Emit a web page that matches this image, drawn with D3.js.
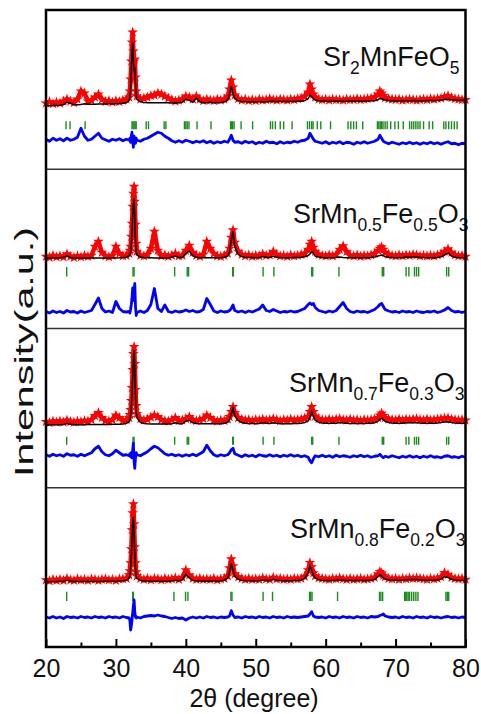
<!DOCTYPE html>
<html>
<head>
<meta charset="utf-8">
<script src="https://cdn.jsdelivr.net/npm/d3@7"></script>
<style>body{margin:0;background:#fff}</style>
</head>
<body>
<script>
/* 2theta sampling (denser around the peaks) */
const twoTheta = [
  20, 20.5, 21, 21.5, 22, 22.5, 23, 23.5, 24, 24.5, 25, 25.5, 26, 26.5, 27, 27.5, 28, 28.5, 29, 29.5, 30, 30.5, 31, 31.5,
  31.9, 32, 32.1, 32.2, 32.3, 32.4, 32.5, 32.6, 32.7, 32.8, 32.9,
  33, 33.5, 34, 34.5, 35, 35.5, 36, 36.5, 37, 37.5, 38, 38.5, 39, 39.5, 40, 40.5, 41, 41.5, 42, 42.5, 43, 43.5, 44, 44.5, 45, 45.5, 46,
  46.25, 46.5, 46.75, 47,
  47.5, 48, 48.5, 49, 49.5, 50, 50.5, 51, 51.5, 52, 52.5, 53, 53.5, 54, 54.5, 55, 55.5, 56, 56.5, 57, 57.5,
  57.75, 58, 58.25,
  58.5, 59, 59.5, 60, 60.5, 61, 61.5, 62, 62.5, 63, 63.5, 64, 64.5, 65, 65.5, 66, 66.5, 67, 67.5,
  67.75, 68, 68.25,
  68.5, 69, 69.5, 70, 70.5, 71, 71.5, 72, 72.5, 73, 73.5, 74, 74.5, 75, 75.5, 76, 76.5, 77, 77.5, 78, 78.5, 79, 79.5, 80
];

/* Sr2MnFeO5 */
const obs1 = [
  66, 67.5, 65.5, 67, 66, 68, 70, 68, 66.5, 70, 78, 76, 68, 69, 72, 75, 70, 67.5, 68.5, 67, 68.5, 67.5, 69, 70,
  72, 78, 90, 108, 127, 137, 118, 108, 110, 92, 78,
  73, 70, 71, 72, 73.5, 74, 76, 75, 73, 71, 69.5, 68, 69, 70, 73, 72, 70, 73, 70, 68.5, 70, 69, 68.5, 70, 69, 70, 73,
  80, 89, 82, 74,
  70.5, 69, 70, 68.5, 69.5, 68.5, 70, 69, 69.5, 70.5, 69.5, 69, 70, 69.5, 69, 70, 69.5, 70.5, 71, 73, 77,
  85, 80, 75,
  72, 70, 69.5, 70, 69, 70, 69.5, 69.5, 69, 70, 69.5, 69.5, 70.5, 69.5, 70, 70.5, 71, 72, 75,
  78, 76, 73.5,
  71.5, 70.5, 70, 69.5, 70, 69, 69.5, 70, 69.5, 69, 69.5, 70, 69.5, 70.5, 70, 70.5, 71, 72.5, 73.5, 71.5, 70.5, 70, 69.5, 69.5
];
const calc1 = [
  63.5, 63.6, 63.7, 63.8, 64, 64.5, 67, 66, 64.4, 64.5, 64.8, 65.5, 64.9, 65, 65, 65.2, 65.3, 65.3, 65.4, 65.5, 65.6, 65.7, 66, 66.5,
  69, 72, 80, 98, 118, 127, 108, 98, 102, 86, 74,
  70, 67.5, 66.8, 66.6, 66.5, 66.5, 66.4, 66.4, 66.5, 66.4, 66.3, 66.3, 66.4, 67, 70, 69, 67, 71, 67.5, 66.5, 66.5, 67, 66.5, 66.6, 66.8, 67.2, 69,
  75, 83, 76, 70.5,
  68.5, 67.8, 67.6, 67.5, 67.5, 67.5, 67.5, 67.6, 67.6, 67.8, 67.9, 67.8, 67.7, 67.7, 67.7, 67.8, 67.8, 67.9, 68, 68.8, 70.5,
  74, 72.5, 70.5,
  69.3, 68.6, 68.3, 68.2, 68.1, 68, 68, 68, 68, 68.1, 68.2, 68.2, 68.2, 68.2, 68.3, 68.3, 68.4, 68.6, 69.5,
  71, 70.5, 69.8,
  69.2, 68.8, 68.6, 68.5, 68.5, 68.5, 68.5, 68.6, 68.7, 68.6, 68.6, 68.6, 68.7, 68.7, 68.8, 68.9, 69.2, 69.8, 70, 69.5, 69.2, 69, 69, 69
];
const diff1 = [
  30, 28, 31, 29, 30.5, 28.5, 31, 29, 30, 32, 41, 33, 29, 30, 33, 36, 31, 29.5, 28, 30, 29, 30.5, 28.5, 30,
  29, 31, 27, 33, 37, 28, 22, 33, 30, 26, 31,
  29, 28, 30, 31, 33, 35, 37, 36, 33, 31, 28.5, 27, 28.5, 27, 29, 28, 26.5, 28, 27, 28.5, 26.5, 28, 26, 27.5, 26.5, 28, 27,
  30, 34, 29, 27,
  27.5, 26, 28, 26.5, 27.5, 25.5, 27, 26, 28, 26.5, 27, 25.5, 27.5, 26, 27, 26.5, 28, 27, 28.5, 29, 31,
  36, 33, 30,
  28, 27, 26, 27.5, 25.5, 27, 26, 27.5, 25.5, 27, 26.5, 25, 27, 26, 27.5, 26, 27, 28, 30,
  34, 31, 28,
  27, 25.5, 27, 26, 25, 26.5, 25.5, 27, 25.5, 26.5, 25, 26.5, 25.5, 27, 25.5, 26.5, 25, 26.5, 27.5, 25.5, 26, 24.5, 26, 25.5
];
const bragg1 = [22.87, 23.44, 25.59, 32.3, 32.45, 32.6, 32.75, 32.9, 34.33, 34.66, 36.9, 37.15, 39.8, 40.0, 40.2, 40.45,
  41.6, 43.6, 46.4, 46.55, 46.7, 46.9, 47.9, 49.55, 52.1, 52.4, 52.8, 53.5, 54.0, 55.2, 57.4, 57.7, 58.0, 58.2, 58.8,
  59.3, 60.7, 63.2, 63.6, 64.0, 64.4, 65.3, 67.4, 67.6, 67.8, 68.0, 68.2, 68.5, 68.8, 69.3, 69.9, 70.4, 71.1, 72.0,
  72.3, 72.6, 72.9, 73.2, 73.5, 74.0, 74.8, 75.3, 76.9, 77.2, 77.6, 78.0, 78.4, 78.8];

/* SrMn0.5Fe0.5O3 */
const obs2 = [
  72, 71, 73, 71.5, 72.5, 71.5, 74.5, 72, 71, 72.5, 71.5, 73, 72, 73, 82, 87, 76, 72.5, 71.5, 73, 82, 75, 72.5, 73,
  75, 78, 82, 92, 105, 122, 135, 142, 127, 104, 85,
  77, 73, 72.5, 74, 80, 97, 78, 72.5, 73.5, 72, 73, 75, 72.5, 73, 78, 83, 76, 73, 72, 74, 87, 80, 75, 72.5, 72, 73, 75,
  80, 91, 98.5, 86,
  77, 74, 72.5, 73.5, 72, 73, 72.5, 74.5, 73, 73.5, 77, 74, 72.5, 73, 72, 73.5, 72.5, 73, 74, 75, 79,
  84, 87, 81,
  77, 74, 73, 72.5, 73.5, 72.5, 74, 79, 82.5, 77, 73, 72.5, 73.5, 72, 73, 72.5, 73.5, 75, 78,
  80, 81.5, 79,
  76, 74, 73, 72.5, 73.5, 72.5, 73.5, 73, 74, 73.5, 72.5, 73, 72.5, 73, 72.5, 73.5, 74.5, 77, 79.5, 76, 73.5, 72.5, 73, 72
];
const calc2 = [
  70.5, 70.5, 70.5, 70.6, 70.7, 71.2, 72.5, 71, 70.6, 70.5, 70.5, 70.5, 70.5, 70.5, 70.5, 70.5, 70.5, 70.5, 70.5, 70.6, 70.6, 70.7, 70.9, 71.3,
  72.5, 74, 77, 84, 96, 112, 124, 130.5, 110, 88, 77,
  73.5, 71.5, 71, 70.8, 70.7, 70.6, 70.6, 70.6, 70.6, 70.7, 71.2, 72.5, 71, 71, 75, 77.5, 72.5, 71.2, 70.8, 70.7, 70.7, 70.7, 70.7, 70.8, 70.9, 71.2, 72.5,
  77, 88, 97, 82,
  74, 72, 71.3, 71, 70.9, 70.8, 71, 72, 71.2, 71, 72.5, 71.3, 70.9, 70.8, 70.8, 70.8, 70.9, 71, 71.3, 71.8, 73,
  74.5, 77, 75,
  72.5, 71.5, 71, 70.8, 70.8, 70.8, 71, 71.5, 71, 70.8, 70.7, 70.7, 70.7, 70.7, 70.8, 70.8, 71, 71.5, 72.5,
  73, 73.5, 72.8,
  71.8, 71.2, 71, 70.8, 70.8, 70.9, 71.3, 71.2, 71.5, 71.5, 71.1, 70.9, 70.8, 70.8, 70.8, 71, 71.6, 73.5, 75.5, 72.5, 71.3, 70.9, 70.7, 70.6
];
const diff2 = [
  17, 15.5, 17.5, 16, 17, 15.5, 18, 16.5, 17, 15.5, 17.5, 16, 17, 18, 24, 30.5, 20, 16.5, 17.5, 16, 27, 20, 17, 16.5,
  17, 15.5, 19, 24, 30, 40.5, 28, 36, 45, 22, 13,
  16, 17.5, 16, 18, 24, 40, 20, 17, 23.5, 17, 16, 17.5, 16.5, 17, 18.5, 17, 18, 16.5, 17, 19, 30, 24, 17.5, 16, 17.5, 16.5, 17,
  18, 20, 23.5, 18,
  16.5, 17.5, 16, 17.5, 16.5, 18, 19.5, 23.5, 18, 17, 19, 17.5, 16, 17, 16.5, 17.5, 16.5, 17, 18.5, 20, 24,
  25.5, 24, 25,
  21, 18, 17, 16, 17.5, 16.5, 18, 22, 26, 20, 17, 16, 17.5, 16.5, 17, 16, 17.5, 19, 22,
  24, 25, 22,
  19, 17.5, 16.5, 17, 16, 17.5, 16.5, 17, 16, 17.5, 16.5, 16, 17, 16.5, 17.5, 16, 17, 18.5, 21, 18, 16.5, 17, 16, 17
];
const bragg2 = [22.96, 32.45, 32.6, 38.4, 40.2, 40.4, 46.7, 46.8, 51.05, 52.6, 58.0, 58.15, 61.9, 68.1, 68.3,
  71.5, 71.9, 72.7, 73.0, 73.3, 77.3, 77.6];

/* SrMn0.7Fe0.3O3 */
const obs3 = [
  66, 65, 66.5, 65.5, 66.5, 65.5, 67.5, 66, 65.5, 66.5, 66, 67, 66.5, 68, 72, 75, 70, 67, 66.5, 68, 72.5, 70, 67, 68,
  70, 73, 78, 87, 100, 118, 134, 141, 124, 98, 82,
  74, 69, 67.5, 68.5, 70.5, 72.5, 71, 68, 67, 66.5, 68, 70, 67, 67.5, 69, 71, 68, 67, 68, 69, 72.5, 70, 67.5, 66.5, 67.5, 67, 68.5,
  71, 76, 81, 75,
  70, 68.5, 67.5, 68, 67, 68, 67.5, 68.5, 67.5, 68, 69, 68, 67, 68, 67.5, 68.5, 67.5, 68, 68.5, 69.5, 71,
  76, 81, 76,
  71.5, 69, 68, 67.5, 68.5, 67.5, 68.5, 69, 68, 67.5, 68.5, 67.5, 68, 67, 68, 67.5, 68, 68.5, 70,
  72.5, 74.5, 72,
  70, 68.5, 68, 67.5, 68.5, 67.5, 68.5, 68, 68.5, 69, 68, 67.5, 68.5, 67.5, 68, 68.5, 69, 69.5, 69.75, 68.5, 68, 67.5, 68, 67.5
];
const calc3 = [
  62.8, 62.8, 62.9, 62.9, 63, 63.3, 64.2, 63.4, 63.1, 63.1, 63.1, 63.1, 63.2, 63.2, 63.2, 63.2, 63.3, 63.3, 63.3, 63.4, 63.4, 63.5, 63.8, 64.5,
  66, 68, 72, 80, 93, 110, 128, 137.5, 118, 92, 76,
  70, 65.5, 64.3, 64, 63.8, 63.7, 63.7, 63.7, 63.7, 63.8, 64, 65, 64, 64, 66.5, 67.5, 65, 64.2, 64, 63.9, 63.9, 63.9, 63.9, 64, 64.1, 64.4, 65.5,
  68.5, 74, 79.5, 72,
  67, 65.3, 64.6, 64.3, 64.2, 64.1, 64.3, 65, 64.4, 64.2, 65, 64.4, 64.1, 64.1, 64.1, 64.1, 64.2, 64.3, 64.6, 65.2, 66.8,
  70, 76, 71.5,
  67.5, 65.5, 64.8, 64.5, 64.4, 64.4, 64.6, 65.2, 64.8, 64.4, 64.3, 64.3, 64.3, 64.3, 64.3, 64.4, 64.6, 65, 66.5,
  68.5, 69.5, 68,
  66.5, 65.3, 64.8, 64.6, 64.5, 64.6, 64.9, 64.9, 65.1, 65.1, 64.8, 64.6, 64.5, 64.5, 64.5, 64.7, 65.2, 65.8, 66, 65.2, 64.8, 64.6, 64.5, 64.5
];
const diff3 = [
  33, 31.5, 33.5, 32, 33, 31.5, 34, 32.5, 33, 31.5, 33.5, 32, 33.5, 35, 39, 41.5, 36, 33, 32, 34, 37.5, 35, 32.5, 33,
  32, 34, 31, 35, 30, 38, 44.5, 27, 19.5, 30, 35,
  33, 32, 34, 36, 39, 41.5, 40, 37, 34, 32.5, 33.5, 32, 33, 31.5, 33, 32, 33.5, 32, 34, 36, 42.5, 37, 33, 31.5, 33, 32, 33,
  35, 38, 39.5, 34,
  32.5, 31, 33, 31.5, 32.5, 31, 33, 32, 31.5, 33, 31.5, 32.5, 31, 32.5, 31.5, 33, 31.5, 32.5, 31, 32, 30.5,
  27, 25, 29,
  32, 31, 32.5, 31, 32, 30.5, 32.5, 31, 32, 31.5, 30.5, 32, 31, 32.5, 31, 32, 30.5, 31.5, 32,
  33.5, 31.5, 30,
  31.5, 30.5, 32, 31, 30, 31.5, 30.5, 32, 30.5, 31.5, 30, 31.5, 30.5, 32, 30.5, 31, 30, 31.5, 32, 30.5, 31, 30, 31.5, 30.5
];
const bragg3 = [22.96, 32.45, 32.6, 38.4, 40.2, 40.4, 46.7, 46.8, 51.05, 52.6, 58.0, 58.15, 61.9, 68.1, 68.3,
  71.5, 71.9, 72.7, 73.0, 73.3, 77.3, 77.6];

/* SrMn0.8Fe0.2O3 */
const obs4 = [
  67, 66, 67.5, 66.5, 67.5, 66.5, 68.5, 67, 66.5, 68, 67, 67.5, 66.5, 68, 67.5, 66.5, 67.5, 68, 67, 67.5, 66.5, 68, 68, 68.5,
  72, 76, 84, 98, 117, 134, 143, 123, 100, 84, 75,
  71, 68.5, 67.5, 68.5, 67, 68.5, 68, 67, 68.5, 67.5, 68, 69, 67.5, 69.5, 77, 72, 68.5, 67.5, 68.5, 67.5, 68, 67.5, 68.5, 67, 68, 68.5, 71,
  79, 88, 81, 73,
  70, 68.5, 67.5, 68.5, 67.5, 68, 67.5, 69, 68, 67.5, 69.5, 68, 68.5, 67.5, 68, 67.5, 68.5, 68, 68.5, 70.5, 77,
  84.3, 80, 74,
  71, 69, 68.5, 68, 67.5, 68.5, 68, 69, 68, 67.5, 68.5, 67.5, 68, 68.5, 67.5, 68, 68.5, 69.5, 73,
  75.3, 74, 71.5,
  70, 68.5, 68, 68.5, 67.5, 68.5, 68, 69, 68.5, 69, 68.5, 68, 67.5, 68.5, 68, 68.5, 70, 74.3, 72.5, 69.5, 68.5, 68, 68.5, 67.5
];
const calc4 = [
  65.3, 65.3, 65.3, 65.4, 65.5, 65.8, 67, 65.9, 65.5, 65.5, 65.5, 65.5, 65.6, 65.6, 65.6, 65.6, 65.6, 65.7, 65.7, 65.7, 65.8, 65.9, 66.2, 66.8,
  69, 72, 78, 90, 108, 124, 130.3, 112, 92, 78, 71,
  68.5, 66.6, 66.1, 65.9, 65.8, 65.8, 65.8, 65.8, 65.8, 65.9, 66.2, 66.8, 66.2, 67.2, 72.7, 69, 66.6, 66.2, 66, 66, 66, 66, 66, 66.1, 66.3, 66.8, 69,
  75, 83.7, 77, 70.5,
  67.8, 66.8, 66.4, 66.3, 66.2, 66.2, 66.4, 67.2, 66.6, 66.6, 67.8, 66.8, 66.4, 66.3, 66.3, 66.3, 66.4, 66.6, 67, 68.5, 74,
  81, 77, 71.5,
  69, 67.4, 66.8, 66.6, 66.5, 66.5, 66.7, 67.2, 66.8, 66.5, 66.4, 66.4, 66.4, 66.4, 66.5, 66.6, 66.8, 67.5, 70.5,
  72, 70.8, 69,
  68, 67.2, 66.9, 66.8, 66.8, 66.9, 67.3, 67.4, 67.6, 67.6, 67.2, 66.9, 66.8, 66.8, 66.9, 67.1, 68, 70.3, 69.5, 67.8, 67.1, 66.8, 66.6, 66.5
];
const diff4 = [
  30, 29, 30.5, 29, 30, 28.5, 30.5, 29.5, 30, 29, 30.5, 29.5, 30, 29, 30.5, 29.5, 30, 29, 30.5, 29.5, 30, 29, 30.5, 29.5,
  29, 26, 17, 21, 27, 34, 41, 47, 35, 30, 29,
  30, 29, 30.5, 31, 31.5, 31, 32, 31, 30.5, 29.5, 28.5, 29.5, 28.5, 29, 27, 29, 30, 29, 30, 29, 30.5, 29.5, 30, 29, 30, 29.5, 30,
  31, 36.3, 32, 29.5,
  30, 29, 30.5, 29.5, 30, 29, 30.5, 29.5, 30, 29, 30.5, 29.5, 30, 29, 30.5, 29.5, 30, 29.5, 30, 30.5, 31,
  33, 35.3, 31,
  30, 29.5, 30, 29, 30.5, 29.5, 30, 29, 30.5, 29.5, 30, 29, 30.5, 29.5, 30, 29, 30.5, 30, 30.5,
  31.5, 32, 33,
  31, 30, 29.5, 30, 29, 30.5, 29.5, 30, 29, 30.5, 29.5, 30, 29, 30.5, 29.5, 30, 29, 30, 30.5, 29.5, 30, 29, 30, 29.5
];
const bragg4 = [22.96, 32.4, 32.5, 38.3, 39.96, 40.3, 46.45, 46.6, 51.05, 52.4, 57.7, 57.85, 58.05, 61.7, 67.7, 67.9,
  68.15, 71.3, 71.45, 71.6, 71.8, 72.0, 72.3, 72.6, 72.9, 73.2, 77.2, 77.4, 77.6];

/* labels: [text, isSubscript] */
const label1 = [['Sr'], ['2', 1], ['MnFeO'], ['5', 1]];
const label2 = [['SrMn'], ['0.5', 1], ['Fe'], ['0.5', 1], ['O'], ['3', 1]];
const label3 = [['SrMn'], ['0.7', 1], ['Fe'], ['0.3', 1], ['O'], ['3', 1]];
const label4 = [['SrMn'], ['0.8', 1], ['Fe'], ['0.2', 1], ['O'], ['3', 1]];

const xMajor = [20, 30, 40, 50, 60, 70, 80];
const xMinor = [25, 35, 45, 55, 65, 75];

/*canvas*/
const width = 481, height = 714;
const plot = { left: 46, right: 465.5, top: 10, bottom: 647 };
const panelH = (plot.bottom - plot.top) / 4;
const font = "Arial, 'Liberation Sans', sans-serif";

const svg = d3.select('body').append('svg')
  .attr('width', width).attr('height', height)
  .style('font-family', font);

const x = d3.scaleLinear().domain([20, 80]).range([plot.left, plot.right]);

const panels = [
  { obs: obs1, calc: calc1, diff: diff1, bragg: bragg1, label: label1, tickRow: [40, 48], labelX: 323, labelY: 56 },
  { obs: obs2, calc: calc2, diff: diff2, bragg: bragg2, label: label2, tickRow: [52, 61.5], labelX: 293, labelY: 54 },
  { obs: obs3, calc: calc3, diff: diff3, bragg: bragg3, label: label3, tickRow: [43, 51], labelX: 289, labelY: 63.5 },
  { obs: obs4, calc: calc4, diff: diff4, bragg: bragg4, label: label4, tickRow: [46, 55.3], labelX: 290, labelY: 50.5 }
];

const star = d3.symbol().type(d3.symbolStar).size(36);

panels.forEach((p, i) => {
  const top = plot.top + i * panelH;
  const y = d3.scaleLinear().domain([0, panelH]).range([top + panelH, top]);
  const line = d3.line().x((d, j) => x(twoTheta[j])).y(d => y(d));
  const g = svg.append('g');

  // formula label
  const t = g.append('text').attr('x', p.labelX).attr('y', top + p.labelY)
    .attr('font-size', 27).attr('fill', '#111');
  let shifted = false;
  p.label.forEach(([s, sub]) => {
    const dy = sub && !shifted ? 8 : (!sub && shifted ? -8 : 0);
    shifted = !!sub;
    t.append('tspan').attr('dy', dy).attr('font-size', sub ? 17.5 : 27).text(s);
  });

  // bragg positions
  g.append('g').selectAll('line').data(p.bragg).join('line')
    .attr('x1', d => x(d)).attr('x2', d => x(d))
    .attr('y1', y(p.tickRow[0])).attr('y2', y(p.tickRow[1]))
    .attr('stroke', '#1c8c1c').attr('stroke-width', 1.4);

  // difference
  g.append('path').datum(p.diff).attr('d', line)
    .attr('fill', 'none').attr('stroke', '#0000ff').attr('stroke-width', 2.8)
    .attr('stroke-linejoin', 'round');

  // observed: red band + stars
  g.append('path').datum(p.obs).attr('d', line)
    .attr('fill', 'none').attr('stroke', '#ff0000').attr('stroke-width', 4.5)
    .attr('stroke-linejoin', 'round');
  g.append('g').selectAll('path').data(p.obs).join('path')
    .attr('transform', (d, j) => `translate(${x(twoTheta[j])},${y(d)})`)
    .attr('d', star).attr('fill', '#ff0000');

  // calculated
  g.append('path').datum(p.calc).attr('d', line)
    .attr('fill', 'none').attr('stroke', '#000').attr('stroke-width', 1.5);

  // separator
  if (i > 0) {
    svg.append('line').attr('x1', plot.left).attr('x2', plot.right)
      .attr('y1', top).attr('y2', top).attr('stroke', '#333').attr('stroke-width', 1.5);
  }
});

/*frame*/
svg.append('rect').attr('x', plot.left).attr('y', plot.top)
  .attr('width', plot.right - plot.left).attr('height', plot.bottom - plot.top)
  .attr('fill', 'none').attr('stroke', '#000').attr('stroke-width', 2.5);

/*x axis*/
svg.append('g').attr('transform', `translate(0,${plot.bottom})`)
  .call(d3.axisBottom(x).tickValues(xMajor).tickSize(-8).tickPadding(12).tickFormat(d3.format('d')))
  .call(g => g.select('.domain').remove())
  .call(g => g.selectAll('line').attr('stroke', '#000').attr('stroke-width', 2))
  .call(g => g.selectAll('text').attr('fill', '#111'))
  .attr('font-size', 25).attr('font-family', font);
svg.append('g').attr('transform', `translate(0,${plot.bottom})`)
  .call(d3.axisBottom(x).tickValues(xMinor).tickSize(-4.5).tickFormat(''))
  .call(g => g.select('.domain').remove())
  .call(g => g.selectAll('line').attr('stroke', '#000').attr('stroke-width', 2));

/*titles*/
svg.append('text').attr('x', 254).attr('y', 707).attr('text-anchor', 'middle')
  .attr('font-size', 25).attr('fill', '#111').text('2\u03B8 (degree)');
svg.append('text').attr('transform', 'translate(33,352) rotate(-90)')
  .attr('text-anchor', 'middle').attr('font-size', 26).attr('fill', '#111')
  .attr('textLength', 250).attr('lengthAdjust', 'spacingAndGlyphs')
  .text('Intensity(a.u.)');
</script>
</body>
</html>
